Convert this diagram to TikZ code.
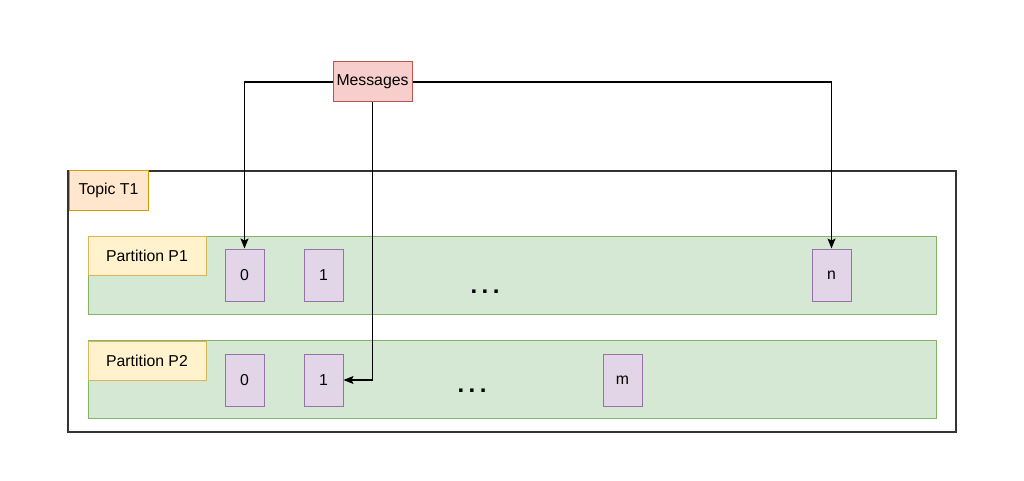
\documentclass[tikz,border=0pt]{standalone}
\usepackage{fontspec}
\setmainfont{Liberation Sans}
\usepackage{xcolor}
\usetikzlibrary{arrows.meta}
\definecolor{msgfill}{HTML}{F8CECC}
\definecolor{msgline}{HTML}{B85450}
\definecolor{topfill}{HTML}{FFE6CC}
\definecolor{topline}{HTML}{D79B00}
\definecolor{partfill}{HTML}{D5E8D4}
\definecolor{partline}{HTML}{82B366}
\definecolor{lblfill}{HTML}{FFF2CC}
\definecolor{lblline}{HTML}{D6B656}
\definecolor{cellfill}{HTML}{E1D5E7}
\definecolor{cellline}{HTML}{9673A6}

\begin{document}
\begin{tikzpicture}[x=1pt, y=-1pt,
    box/.style={draw=#1line, fill=#1fill, line width=1pt, inner sep=0pt,
                font=\fontsize{15.8}{18}\selectfont},
    cell/.style={box=cell, minimum width=39pt, minimum height=52pt},
    lbl/.style={box=lbl, minimum width=118pt, minimum height=39pt},
    part/.style={box=part, minimum width=848pt, minimum height=78pt},
    dots/.style={font=\fontsize{24}{24}\selectfont\bfseries, inner sep=0pt},
    arr/.style={-{Stealth[length=10pt, width=8pt, inset=2pt]}, line width=1.2pt},
]
    \useasboundingbox (0,0) rectangle (1024,481);

    % topic frame
    \node[draw=black!80, line width=1.3pt, minimum width=888pt, minimum height=261pt,
          inner sep=0pt] (topic) at (512, 301.5) {};
    \node[box=top, minimum width=79pt, minimum height=39pt] (topiclbl) at (108.5, 190.5) {Topic T1};

    % partitions
    \node[part] (part1) at (512, 275) {};
    \node[lbl]  (p1lbl) at (147, 255.5) {Partition P1};
    \node[part] (part2) at (512, 379.5) {};
    \node[lbl]  (p2lbl) at (147, 360.5) {Partition P2};

    % offsets
    \node[cell] (p1c0) at (244.5, 275) {0};
    \node[cell] (p1c1) at (323.5, 275) {1};
    \node[cell] (p1cn) at (831.5, 275) {n};
    \node[cell] (p2c0) at (244.5, 380) {0};
    \node[cell] (p2c1) at (323.5, 380) {1};
    \node[cell] (p2cm) at (622.5, 380) {m};
    \node[dots] (p1dots) at (485, 292) {.\hspace{4.5pt}.\hspace{4.5pt}.};
    \node[dots] (p2dots) at (472, 391) {.\hspace{4.5pt}.\hspace{4.5pt}.};

    % producer
    \node[box=msg, minimum width=79pt, minimum height=40pt] (msgs) at (372.5, 82) {Messages};

    \draw[arr] (msgs.west)  -| (p1c0.north);
    \draw[arr] (msgs.east)  -| (p1cn.north);
    \draw[arr] (msgs.south) |- (p2c1.east);
\end{tikzpicture}
\end{document}
